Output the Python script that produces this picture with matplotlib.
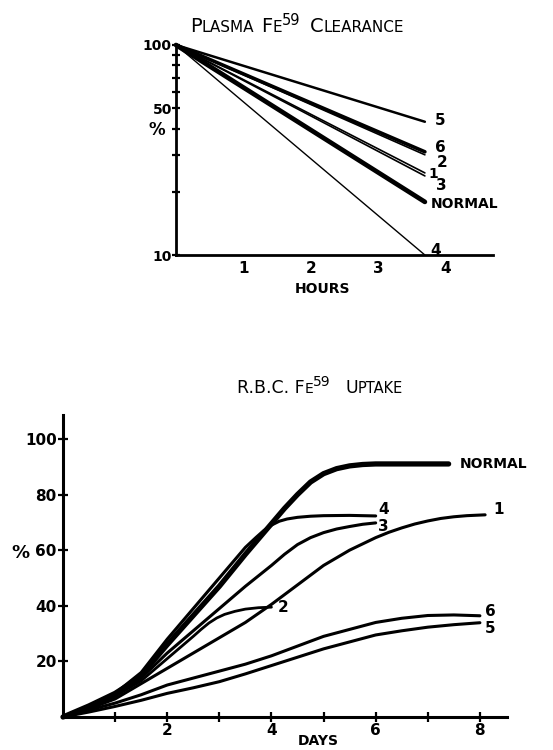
import matplotlib
matplotlib.use("Agg")
import matplotlib.pyplot as plt
from matplotlib.transforms import IdentityTransform

W, H = 553, 750

# ---- plasma clearance (log %), straight lines from 100% at t=0
hours_end = 3.69
clear_names = ["5", "6", "2", "1", "3", "NORMAL", "4"]
clear_end = [43.1, 31.0, 30.0, 24.6, 23.8, 17.9, 10.0]
clear_lw = [1.8, 2.6, 1.2, 1.2, 1.2, 3.4, 1.0]
clear_label_pos = [(3.84, 43.6), (3.84, 32.6), (3.86, 27.6), (3.74, 24.4),
                   (3.86, 21.4), (3.78, 17.4), (3.77, 10.5)]
hour_ticks = [1, 2, 3, 4]

# ---- RBC uptake (%)
normal_days = [0, 0.5, 1.0, 1.25, 1.5, 1.75, 2.0, 2.5, 3.0, 3.5, 4.0, 4.25, 4.5, 4.75,
               5.0, 5.25, 5.5, 5.75, 6.0, 6.5, 7.0, 7.4]
normal_vals = [0, 4, 8.5, 11.5, 15, 20.5, 26, 36.5, 47, 58.5, 69.5, 75, 80, 84.5,
               87.5, 89.3, 90.3, 90.8, 91, 91, 91, 91]

c4_days = [0, 0.5, 1.0, 1.5, 2.0, 2.5, 3.0, 3.5, 3.7, 3.85, 4.0, 4.15, 4.3, 4.5, 4.75, 5.0, 5.5, 6.0]
c4_vals = [0, 4, 8.5, 16, 28, 39, 50, 61, 64.5, 67, 69, 70.4, 71.2, 71.8, 72.2, 72.4, 72.5, 72.3]

c3_days = [0, 0.5, 1.0, 1.5, 2.0, 2.5, 3.0, 3.5, 4.0, 4.25, 4.5, 4.75, 5.0, 5.25, 5.5, 5.75, 6.0]
c3_vals = [0, 3.5, 7.5, 14, 23, 31, 39, 47, 54.5, 58.5, 62, 64.5, 66.3, 67.6, 68.5, 69.3, 69.8]

c2_days = [0, 0.5, 1.0, 1.5, 2.0, 2.5, 2.65, 2.8, 2.95, 3.1, 3.3, 3.5, 3.75, 4.0]
c2_vals = [0, 3.5, 7.5, 13, 21, 29, 31.5, 33.8, 35.6, 36.9, 38, 38.8, 39.3, 39.5]

c1_days = [0, 0.5, 1.0, 1.5, 2.0, 2.5, 3.0, 3.5, 4.0, 4.5, 5.0, 5.5, 6.0, 6.25, 6.5,
           6.75, 7.0, 7.25, 7.5, 7.75, 8.1]
c1_vals = [0, 3, 6.5, 12, 17.5, 23, 28.5, 34, 40.5, 47.5, 54.5, 60, 64.5, 66.4, 68,
           69.4, 70.5, 71.4, 72, 72.4, 72.7]

c6_days = [0, 0.5, 1.0, 1.5, 2.0, 2.5, 3.0, 3.5, 4.0, 4.5, 5.0, 5.5, 6.0, 6.5, 7.0, 7.5, 8.0]
c6_vals = [0, 2.5, 5, 8, 11.5, 14, 16.5, 19, 22, 25.5, 29, 31.5, 34, 35.5, 36.5, 36.7, 36.4]

c5_days = [0, 0.5, 1.0, 1.5, 2.0, 2.5, 3.0, 3.5, 4.0, 4.5, 5.0, 5.5, 6.0, 6.5, 7.0, 7.5, 8.0]
c5_vals = [0, 1.8, 3.8, 6, 8.5, 10.5, 12.7, 15.5, 18.5, 21.5, 24.5, 27, 29.5, 31, 32.3, 33.2, 33.9]

uptake = [
    ("NORMAL", normal_days, normal_vals, 3.8, (7.62, 91)),
    ("4", c4_days, c4_vals, 2.2, (6.05, 74.5)),
    ("3", c3_days, c3_vals, 2.2, (6.05, 68.5)),
    ("2", c2_days, c2_vals, 2.0, (4.12, 39.5)),
    ("1", c1_days, c1_vals, 2.2, (8.25, 74.5)),
    ("6", c6_days, c6_vals, 2.2, (8.1, 37.8)),
    ("5", c5_days, c5_vals, 2.2, (8.1, 31.8)),
]
day_major = [2, 4, 6, 8]
day_minor = [1, 3, 5, 7]
pct_ticks = [20, 40, 60, 80, 100]


def box(l, t, r, b):
    # pixel box -> figure fraction rect
    return [l / W, 1 - b / H, (r - l) / W, (b - t) / H]


def lettering(fig, xc, y, parts):
    """Fake small caps: draw pieces side by side, centred on xc (pixels, y from top)."""
    r = fig.canvas.get_renderer()
    items = []
    for s, fs, dy, gap in parts:
        t = fig.text(0, 0, s, fontsize=fs, transform=IdentityTransform(),
                     ha="left", va="baseline")
        w = t.get_window_extent(r).width if s else 0
        items.append((t, w, dy, gap))
    total = sum(w + g for _, w, _, g in items)
    x = xc - total / 2
    for t, w, dy, gap in items:
        t.set_position((x, H - y + dy))
        x += w + gap


plt.rcParams["font.family"] = ["DejaVu Sans"]
fig = plt.figure(figsize=(W / 100, H / 100), dpi=100)

# ---------------- top chart
ax1 = fig.add_axes(box(176, 45, 493, 255))
for name, end, lw, (lx, ly) in zip(clear_names, clear_end, clear_lw, clear_label_pos):
    ax1.plot([0, hours_end], [100, end], color="black", lw=lw, solid_capstyle="round", clip_on=False)
    fs = 10 if name == "1" else (10 if name == "NORMAL" else 11)
    ax1.text(lx, ly, name, fontsize=fs, fontweight="bold", va="center", ha="left")
ax1.set_yscale("log")
ax1.set_ylim(10, 100)
ax1.set_xlim(0, 4.7)
ax1.set_yticks([10, 50, 100])
ax1.set_yticklabels(["10", "50", "100"])
ax1.set_yticks([20, 30, 40, 60, 70, 80, 90], minor=True)
ax1.yaxis.set_minor_formatter(plt.NullFormatter())
ax1.set_xticks(hour_ticks)
ax1.tick_params(axis="y", which="both", direction="inout", length=6, width=1.6, pad=0, labelsize=10)
ax1.tick_params(axis="x", length=0, pad=4, labelsize=11)
for lab in ax1.get_yticklabels() + ax1.get_xticklabels():
    lab.set_fontweight("bold")
for s in ["top", "right"]:
    ax1.spines[s].set_visible(False)
for s in ["left", "bottom"]:
    ax1.spines[s].set_linewidth(2)
fig.text(157 / W, 1 - 130 / H, "%", fontsize=12, fontweight="bold", ha="center", va="center")
fig.text(322 / W, 1 - 289 / H, "HOURS", fontsize=10, fontweight="bold", ha="center", va="center")

lettering(fig, 297, 32, [("P", 14, 0, 0), ("LASMA", 11, 0, 7), ("F", 14, 0, 0), ("E", 11, 0, 0),
                         ("59", 10.5, 7, 9), ("C", 14, 0, 0), ("LEARANCE", 11, 0, 0)])

# ---------------- bottom chart
ax2 = fig.add_axes(box(63, 415, 507, 717))
for name, d, v, lw, (lx, ly) in uptake:
    ax2.plot(d, v, color="black", lw=lw, solid_capstyle="round", solid_joinstyle="round", clip_on=False)
    fs = 10 if name == "NORMAL" else 11
    ax2.text(lx, ly, name, fontsize=fs, fontweight="bold", va="center", ha="left")
ax2.set_xlim(0, 8.52)
ax2.set_ylim(0, 108.6)
ax2.set_xticks(day_major)
ax2.set_xticks(day_minor, minor=True)
ax2.set_yticks(pct_ticks)
ax2.tick_params(which="both", direction="inout", length=7, width=1.6, labelsize=11, pad=1)
for lab in ax2.get_yticklabels() + ax2.get_xticklabels():
    lab.set_fontweight("bold")
for s in ["top", "right"]:
    ax2.spines[s].set_visible(False)
for s in ["left", "bottom"]:
    ax2.spines[s].set_linewidth(2.2)
fig.text(20 / W, 1 - 553 / H, "%", fontsize=13, fontweight="bold", ha="center", va="center")
fig.text(318 / W, 1 - 741 / H, "DAYS", fontsize=10, fontweight="bold", ha="center", va="center")

lettering(fig, 320, 393, [("R.B.C. F", 12.5, 0, 0), ("E", 10, 0, 0), ("59", 10, 7, 14),
                          ("U", 12.5, 0, 0), ("PTAKE", 10.5, 0, 0)])

fig.savefig("out.png", dpi=100)
